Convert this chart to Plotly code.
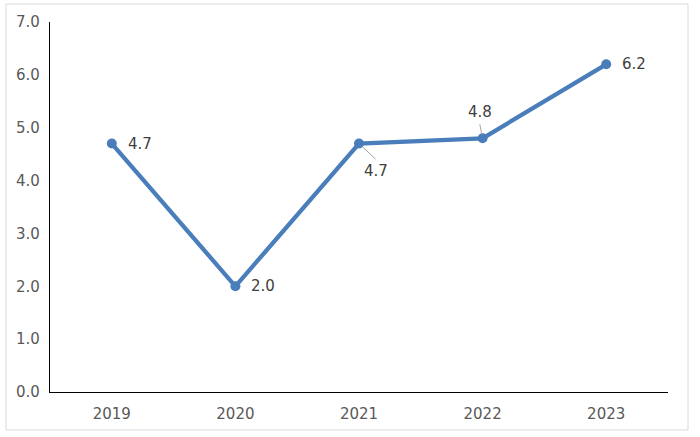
import plotly.graph_objects as go

years = ["2019", "2020", "2021", "2022", "2023"]
values = [4.7, 2.0, 4.7, 4.8, 6.2]
labels = ["4.7", "2.0", "4.7", "4.8", "6.2"]
y_ticks = [0, 1, 2, 3, 4, 5, 6, 7]

line_color = "#4A7EBB"
fig = go.Figure()
fig.add_trace(go.Scatter(
    x=years, y=values, mode="lines+markers",
    line=dict(color=line_color, width=4.3),
    marker=dict(color=line_color, size=10),
    hoverinfo="skip", showlegend=False,
))

font = dict(family="DejaVu Sans", size=15, color="#404040")
# label placement: (label dx, label dy, leader end dx, leader end dy or None)
placements = [(28, 0, None), (28, 0, None), (17, -27, (17, 16)), (-3, 26, (-3, -15)), (28, 0, None)]
annotations = []
for i, (v, t, (dx, dy, lead)) in enumerate(zip(values, labels, placements)):
    if lead is not None:
        annotations.append(dict(x=i, y=v, xref="x", yref="y", text=" ", showarrow=True,
                                ax=lead[0], ay=lead[1], arrowhead=0, arrowwidth=1,
                                arrowcolor="#A6A6A6", standoff=4, borderpad=0,
                                font=dict(size=1)))
    annotations.append(dict(x=i, y=v, xref="x", yref="y", text=t, showarrow=False,
                            xanchor="center", xshift=dx, yshift=dy, font=font))

fig.update_layout(
    width=700, height=437,
    margin=dict(l=50, r=32, t=22, b=45),
    paper_bgcolor="white", plot_bgcolor="white",
    annotations=annotations,
    font=dict(family="DejaVu Sans", size=15, color="#595959"),
    shapes=[dict(type="rect", xref="paper", yref="paper",
                 x0=-0.0712, x1=1.0324, y0=-0.1027, y1=1.0486,
                 line=dict(color="#D9D9D9", width=1), fillcolor="rgba(0,0,0,0)", layer="below")],
)
fig.update_xaxes(type="category", range=[-0.5, 4.5], showline=True, linecolor="black",
                 linewidth=1.2, showgrid=False, ticks="", ticklabelstandoff=8,
                 tickfont=dict(family="DejaVu Sans", size=15, color="#595959"))
fig.update_yaxes(range=[0, 7], tickvals=y_ticks, tickformat=".1f", showline=True,
                 linecolor="black", linewidth=1.2, showgrid=False, zeroline=False, ticks="",
                 ticklabelstandoff=6,
                 tickfont=dict(family="DejaVu Sans", size=15, color="#595959"))
fig.write_html("out.html", config={"displayModeBar": False},
               post_script="document.body.style.margin='0';")
